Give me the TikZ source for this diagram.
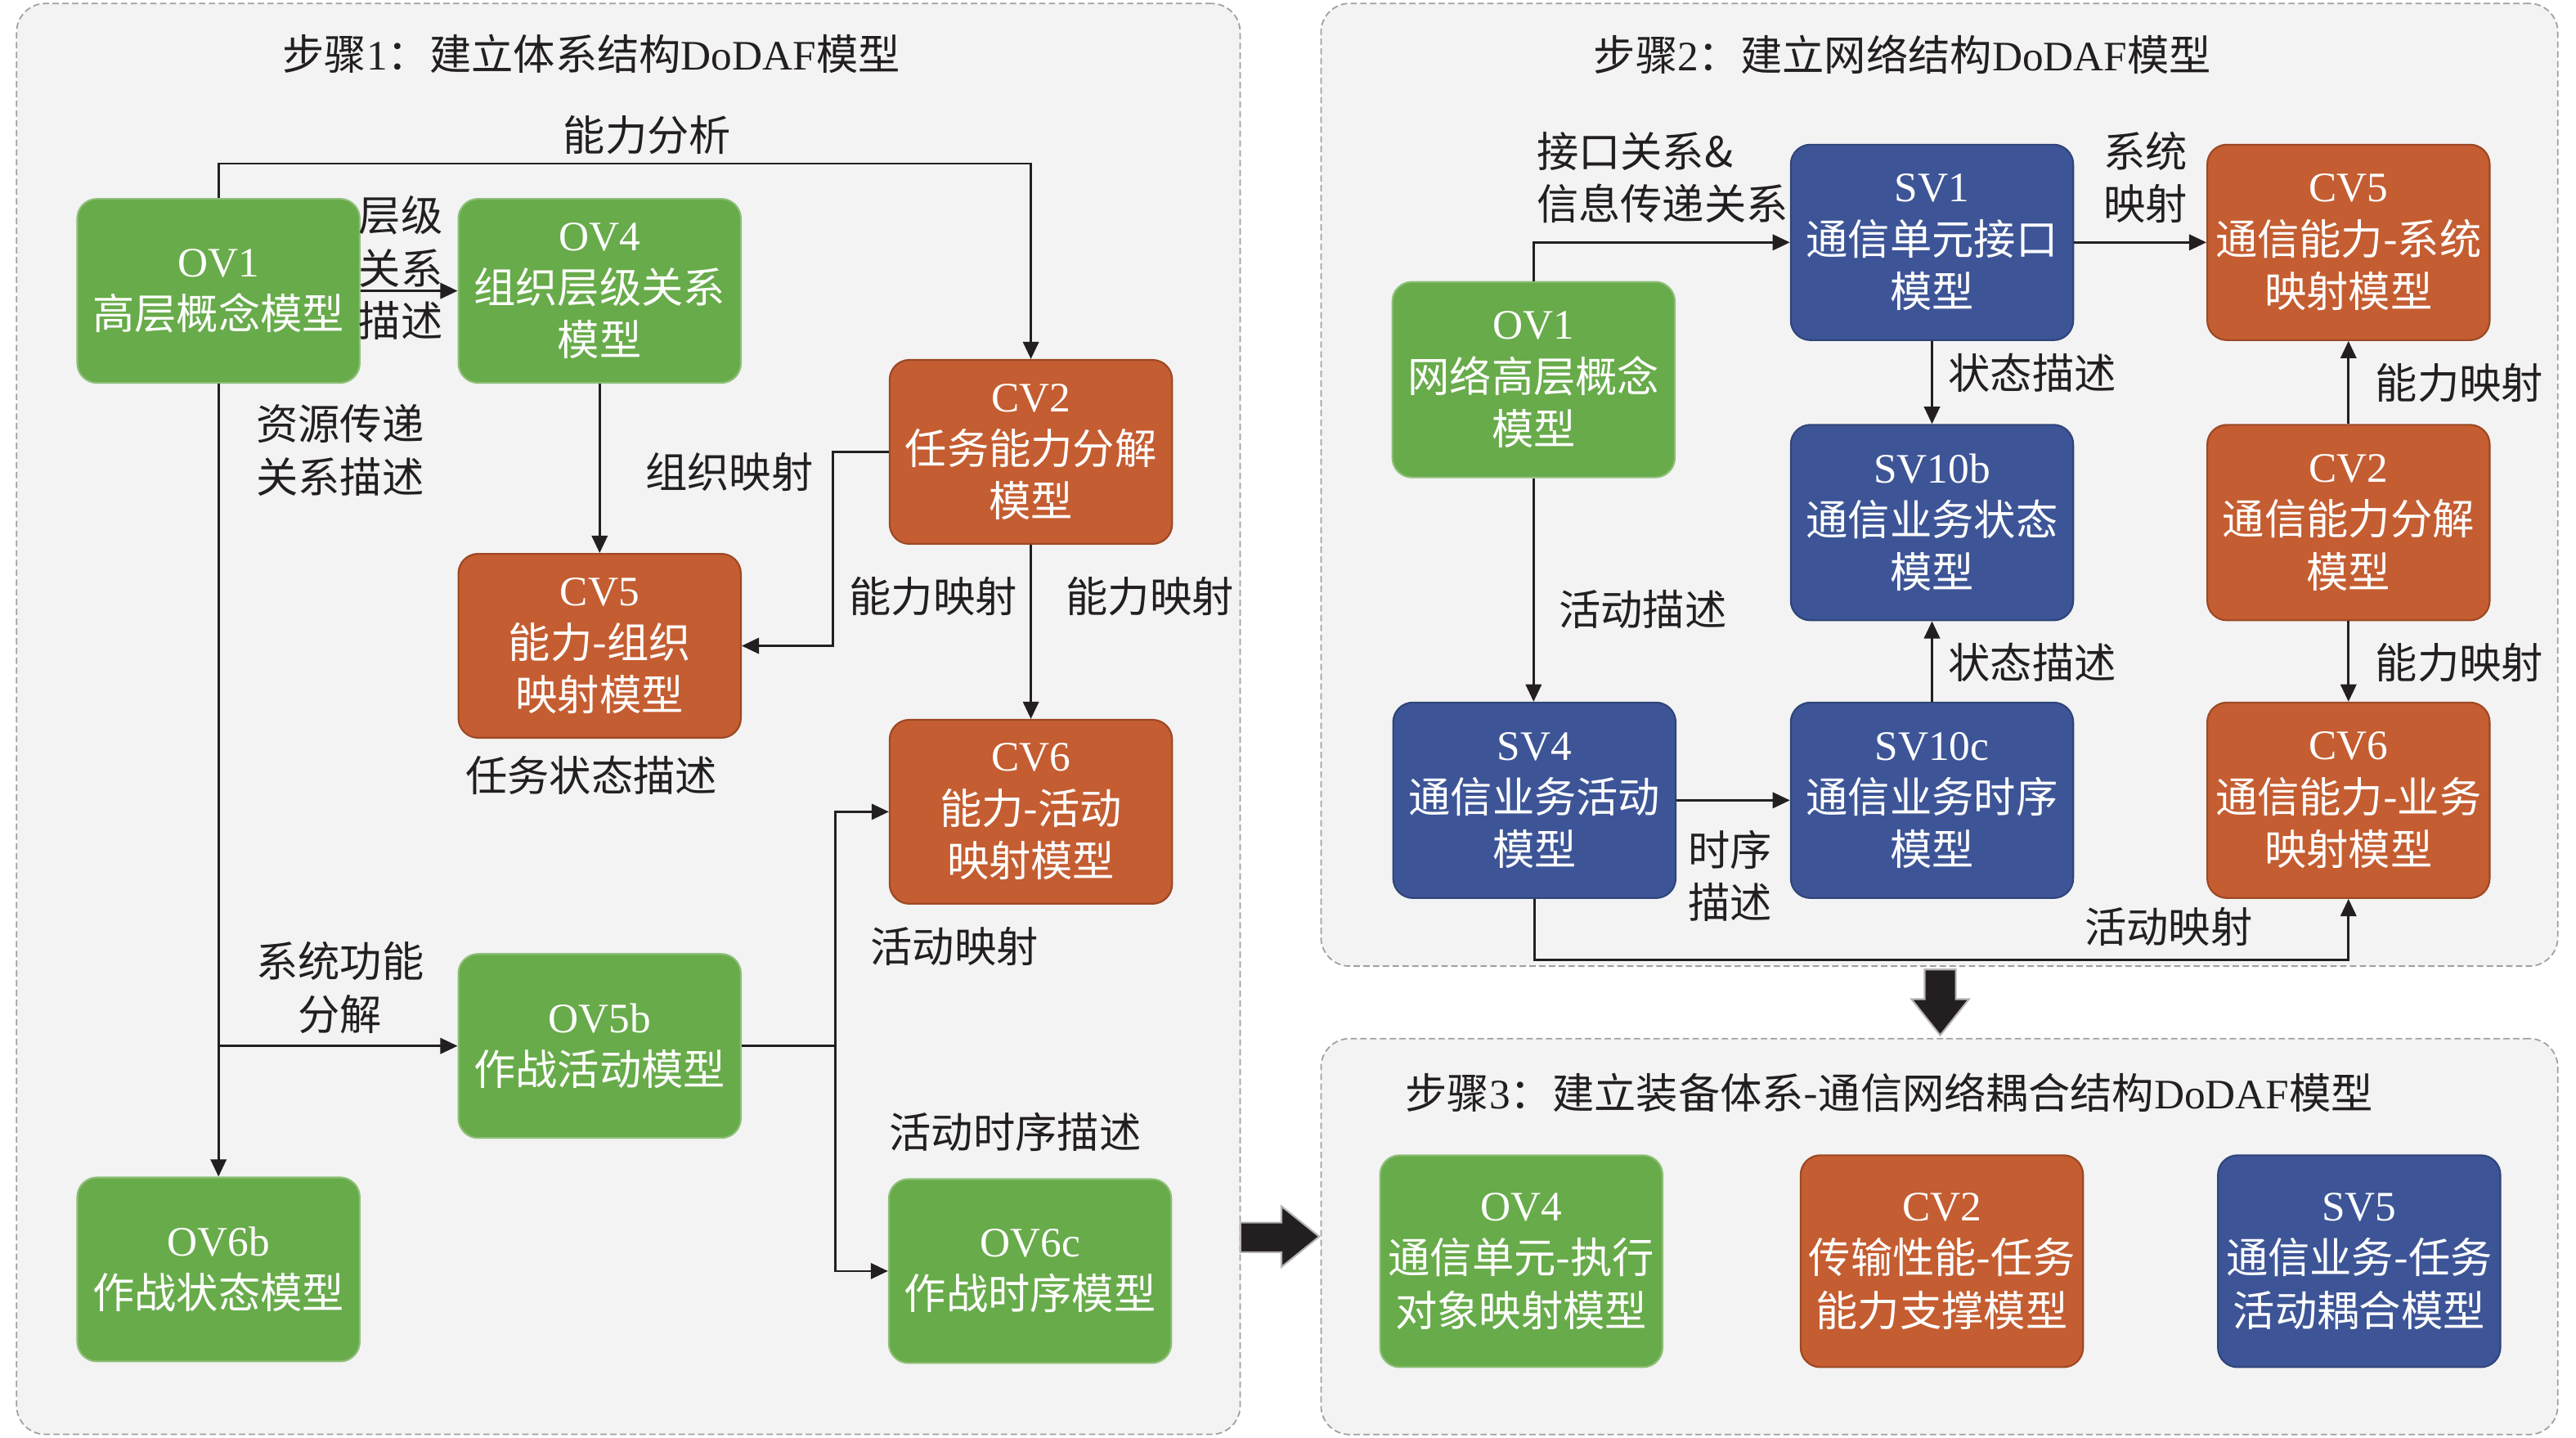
\documentclass[tikz,border=0pt]{standalone}
\usepackage{fontspec}
\setmainfont{Liberation Serif}
\newfontfamily\cjk{Noto Sans CJK SC}
\usetikzlibrary{arrows.meta,calc}
\definecolor{gbox}{HTML}{68AB4A}
\definecolor{gline}{HTML}{8DBF78}
\definecolor{obox}{HTML}{C45D31}
\definecolor{oline}{HTML}{9C4823}
\definecolor{bbox}{HTML}{3D5597}
\definecolor{bline}{HTML}{2F4479}
\definecolor{pfill}{HTML}{F3F3F3}
\definecolor{pline}{HTML}{A0A0A0}
\definecolor{ink}{HTML}{231F20}
\begin{document}
\begin{tikzpicture}[x=0.02009cm, y=-0.02009cm,
  txt/.style={font=\fontsize{14.6}{18.3}\selectfont, inner sep=0pt, align=center, text=ink},
  box/.style={rounded corners=0.24cm, minimum width=3.455cm, minimum height=2.25cm, inner sep=0pt, align=center, text=white, font=\fontsize{14.6}{18.3}\selectfont, line width=0.6pt},
  tall/.style={minimum height=2.391cm},
  taller/.style={minimum height=2.592cm},
  gbx/.style={box, fill=gbox, draw=gline},
  obx/.style={box, fill=obox, draw=oline},
  bbx/.style={box, fill=bbox, draw=bline},
  arr/.style={draw=ink, line width=0.75pt, -{Triangle[length=6pt,width=5.5pt]}},
  ln/.style={draw=ink, line width=0.75pt},
  panel/.style={draw=pline, fill=pfill, dash pattern=on 2.2pt off 1.2pt, rounded corners=0.35cm, line width=0.5pt, inner sep=0pt},
  bigarrow/.style={fill=ink, draw=pline!80, line width=0.6pt}
]
\useasboundingbox (0,0) rectangle (1568,875);

% panels
\node[panel, minimum width=14.967cm, minimum height=17.498cm] (p1) at (382.5,437.5) {};
\node[panel, minimum width=15.128cm, minimum height=11.773cm] (p2) at (1180.5,295) {};
\node[panel, minimum width=15.128cm, minimum height=4.842cm] (p3) at (1180.5,752.5) {};

% titles
\node[txt] (t1) at (360,33) {{\cjk 步骤}1{\cjk ：建立体系结构}DoDAF{\cjk 模型}};
\node[txt] (t2) at (1158,33) {{\cjk 步骤}2{\cjk ：建立网络结构}DoDAF{\cjk 模型}};
\node[txt] (t3) at (1150,665) {{\cjk 步骤}3{\cjk ：建立装备体系-通信网络耦合结构}DoDAF{\cjk 模型}};

% ---------- panel 1 boxes ----------
\node[gbx] (ov1) at (133,177) {OV1\\{\cjk 高层概念模型}};
\node[gbx] (ov4) at (365,177) {OV4\\{\cjk 组织层级关系}\\{\cjk 模型}};
\node[obx] (cv2) at (627.5,275) {CV2\\{\cjk 任务能力分解}\\{\cjk 模型}};
\node[obx] (cv5) at (365,393) {CV5\\{\cjk 能力-组织}\\{\cjk 映射模型}};
\node[obx] (cv6) at (627.5,494) {CV6\\{\cjk 能力-活动}\\{\cjk 映射模型}};
\node[gbx] (ov5b) at (365,636.5) {OV5b\\{\cjk 作战活动模型}};
\node[gbx] (ov6b) at (133,772.5) {OV6b\\{\cjk 作战状态模型}};
\node[gbx] (ov6c) at (627,773.5) {OV6c\\{\cjk 作战时序模型}};

% panel 1 connectors
\draw[arr] (ov1.north) -- ++(0,-21) -| (cv2.north);
\draw[arr] (ov1.east) -- (ov4.west);
\draw[arr] (ov4.south) -- (cv5.north);
\draw[arr] (cv2.west) -- ++(-34,0) |- (cv5.east);
\draw[arr] (cv2.south) -- (cv6.north);
\draw[arr] (ov1.south) -- (ov6b.north);
\draw[arr] (ov5b.west -| ov1.south) -- (ov5b.west);
\draw[ln] (ov5b.east) -- ++(57,0) coordinate (j1);
\draw[arr] (j1) |- (cv6.west);
\draw[arr] (j1) |- (ov6c.west);

% panel 1 labels
\node[txt] (l1) at (394,82) {\cjk 能力分析};
\node[txt] (l2) at (244,163) {\cjk 层级\\\cjk 关系\\\cjk 描述};
\node[txt] (l3) at (207,274) {\cjk 资源传递\\\cjk 关系描述};
\node[txt] (l4) at (444,287) {\cjk 组织映射};
\node[txt] (l5) at (568,363) {\cjk 能力映射};
\node[txt] (l6) at (700,363) {\cjk 能力映射};
\node[txt] (l7) at (360,472) {\cjk 任务状态描述};
\node[txt] (l8) at (207,601) {\cjk 系统功能\\\cjk 分解};
\node[txt] (l9) at (581,576) {\cjk 活动映射};
\node[txt] (l10) at (618,689) {\cjk 活动时序描述};

% ---------- panel 2 boxes ----------
\node[bbx, tall] (sv1) at (1176,147.5) {SV1\\{\cjk 通信单元接口}\\{\cjk 模型}};
\node[obx, tall] (pcv5) at (1429.5,147.5) {CV5\\{\cjk 通信能力-系统}\\{\cjk 映射模型}};
\node[gbx, tall] (pov1) at (933.5,231) {OV1\\{\cjk 网络高层概念}\\{\cjk 模型}};
\node[bbx, tall] (sv10b) at (1176,318) {SV10b\\{\cjk 通信业务状态}\\{\cjk 模型}};
\node[obx, tall] (pcv2) at (1429.5,318) {CV2\\{\cjk 通信能力分解}\\{\cjk 模型}};
\node[bbx, tall] (sv4) at (934,487) {SV4\\{\cjk 通信业务活动}\\{\cjk 模型}};
\node[bbx, tall] (sv10c) at (1176,487) {SV10c\\{\cjk 通信业务时序}\\{\cjk 模型}};
\node[obx, tall] (pcv6) at (1429.5,487) {CV6\\{\cjk 通信能力-业务}\\{\cjk 映射模型}};

% panel 2 connectors
\draw[arr] (pov1.north) |- (sv1.west);
\draw[arr] (sv1.east) -- (pcv5.west);
\draw[arr] (sv1.south) -- (sv10b.north);
\draw[arr] (sv10c.north) -- (sv10b.south);
\draw[arr] (pcv2.north) -- (pcv5.south);
\draw[arr] (pcv2.south) -- (pcv6.north);
\draw[arr] (pov1.south) -- (pov1.south |- sv4.north);
\draw[arr] (sv4.east) -- (sv10c.west);
\draw[arr] (sv4.south) -- ++(0,37) -| (pcv6.south);

% panel 2 labels
\node[txt, anchor=west, align=left] (m1) at (935,108) {\cjk 接口关系\&\\\cjk 信息传递关系};
\node[txt] (m2) at (1306,108) {\cjk 系统\\\cjk 映射};
\node[txt] (m3) at (1237,227) {\cjk 状态描述};
\node[txt] (m4) at (1237,403) {\cjk 状态描述};
\node[txt] (m5) at (1497,233) {\cjk 能力映射};
\node[txt] (m6) at (1497,403) {\cjk 能力映射};
\node[txt] (m7) at (1000,371) {\cjk 活动描述};
\node[txt] (m8) at (1053,533) {\cjk 时序\\\cjk 描述};
\node[txt] (m9) at (1320,564) {\cjk 活动映射};

% ---------- panel 3 boxes ----------
\node[gbx, taller] (qov4) at (926,767.5) {OV4\\{\cjk 通信单元-执行}\\{\cjk 对象映射模型}};
\node[obx, taller] (qcv2) at (1182,767.5) {CV2\\{\cjk 传输性能-任务}\\{\cjk 能力支撑模型}};
\node[bbx, taller] (qsv5) at (1436,767.5) {SV5\\{\cjk 通信业务-任务}\\{\cjk 活动耦合模型}};

% big arrows between panels
\draw[bigarrow] (1171.5,590) -- (1190.5,590) -- (1190.5,608) -- (1198.5,608) -- (1181,630) -- (1163.5,608) -- (1171.5,608) -- cycle;
\draw[bigarrow] (755,744) -- (780,744) -- (780,734) -- (803,752.5) -- (780,771) -- (780,762) -- (755,762) -- cycle;
\end{tikzpicture}
\end{document}
